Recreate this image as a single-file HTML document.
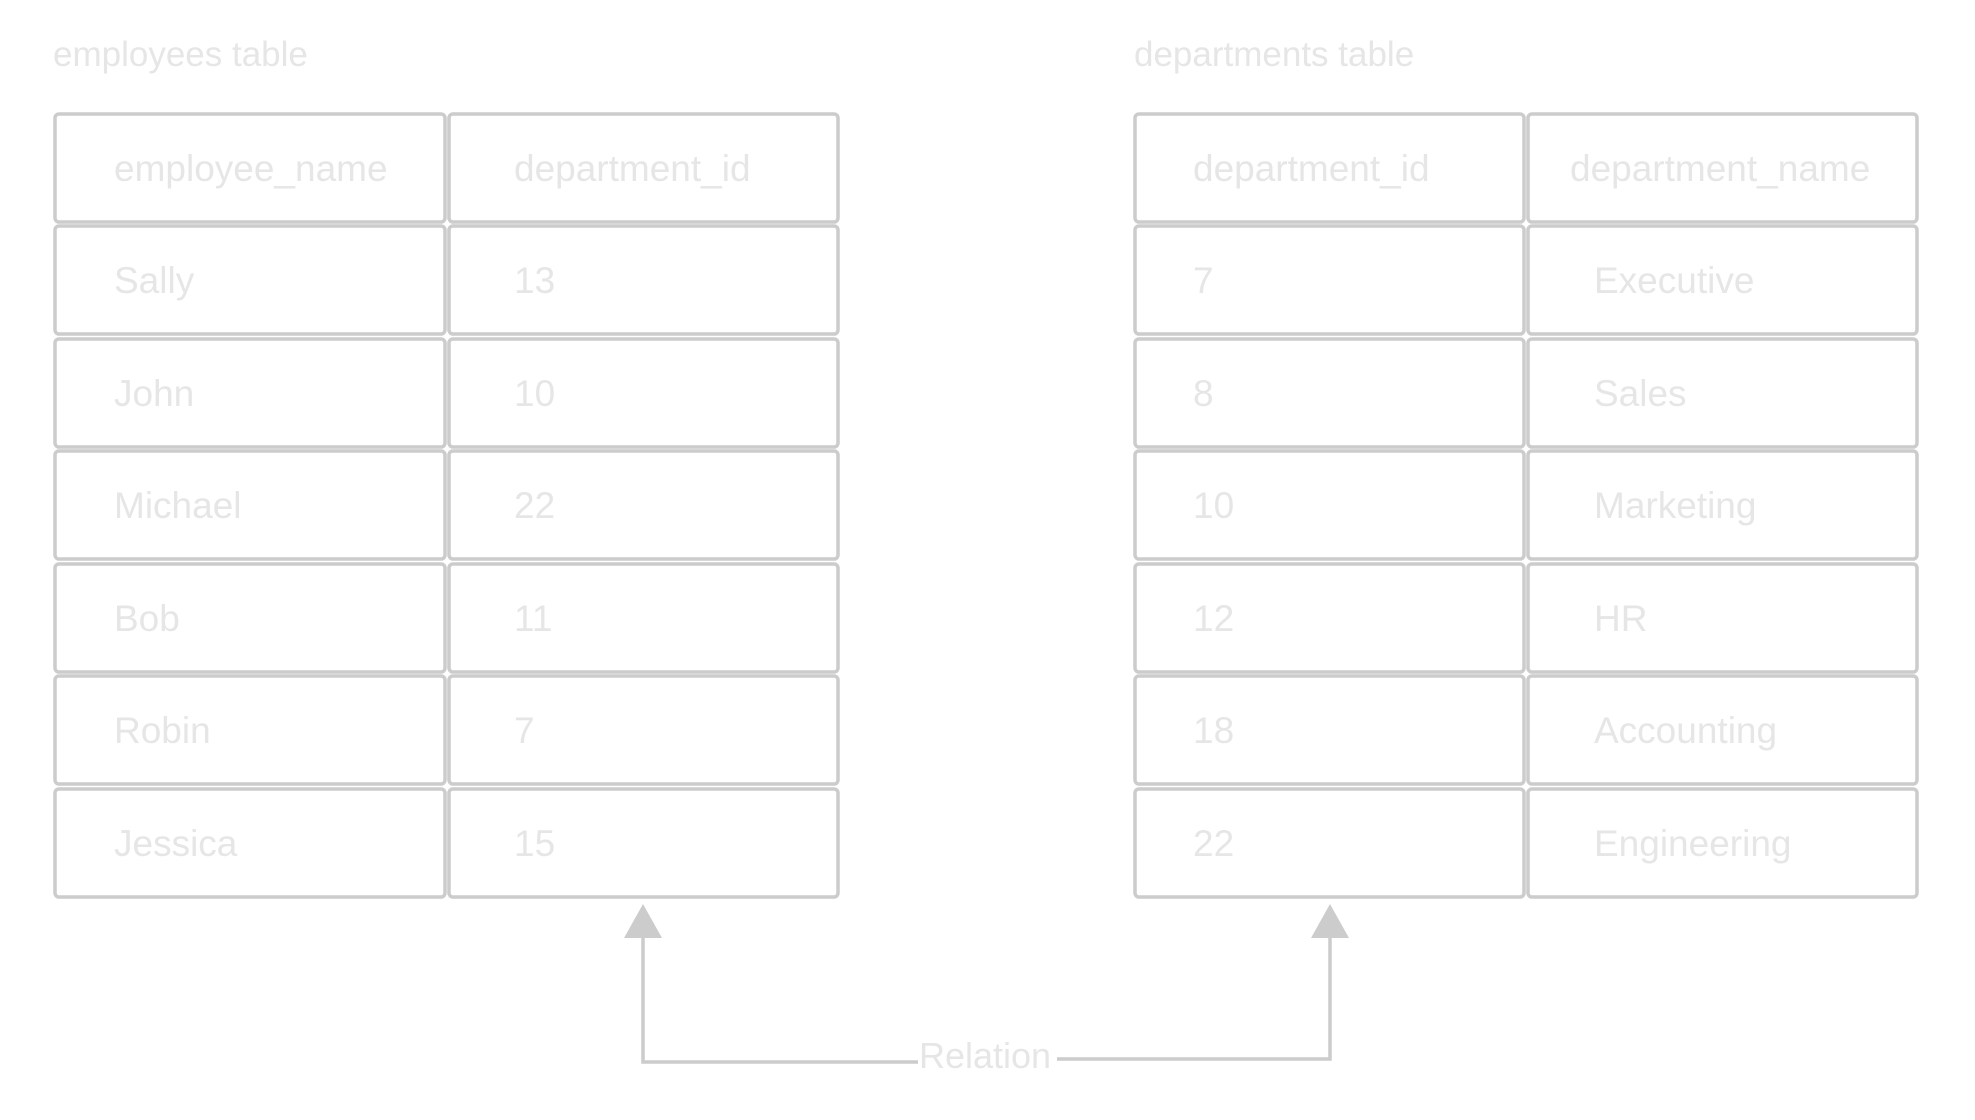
<!DOCTYPE html>
<html><head><meta charset="utf-8"><style>
html,body{margin:0;padding:0;background:#fff;}
svg{display:block;}
text{font-family:"Liberation Sans",sans-serif;fill:#e6e6e6;font-size:37px;}
</style></head><body>
<svg width="1975" height="1120" viewBox="0 0 1975 1120" xmlns="http://www.w3.org/2000/svg">
<text x="53" y="66" style="font-size:35px">employees table</text>
<text x="1134" y="66" style="font-size:35px">departments table</text>
<g transform="translate(0,-2)">
<g fill="none" stroke="#cccccc" stroke-width="3.5">
<rect x="55" y="116" width="390" height="108" rx="4"/><rect x="449" y="116" width="389" height="108" rx="4"/>
<rect x="55" y="228" width="390" height="108" rx="4"/><rect x="449" y="228" width="389" height="108" rx="4"/>
<rect x="55" y="341" width="390" height="108" rx="4"/><rect x="449" y="341" width="389" height="108" rx="4"/>
<rect x="55" y="453" width="390" height="108" rx="4"/><rect x="449" y="453" width="389" height="108" rx="4"/>
<rect x="55" y="566" width="390" height="108" rx="4"/><rect x="449" y="566" width="389" height="108" rx="4"/>
<rect x="55" y="678" width="390" height="108" rx="4"/><rect x="449" y="678" width="389" height="108" rx="4"/>
<rect x="55" y="791" width="390" height="108" rx="4"/><rect x="449" y="791" width="389" height="108" rx="4"/>

<rect x="1135" y="116" width="389" height="108" rx="4"/><rect x="1528" y="116" width="389" height="108" rx="4"/>
<rect x="1135" y="228" width="389" height="108" rx="4"/><rect x="1528" y="228" width="389" height="108" rx="4"/>
<rect x="1135" y="341" width="389" height="108" rx="4"/><rect x="1528" y="341" width="389" height="108" rx="4"/>
<rect x="1135" y="453" width="389" height="108" rx="4"/><rect x="1528" y="453" width="389" height="108" rx="4"/>
<rect x="1135" y="566" width="389" height="108" rx="4"/><rect x="1528" y="566" width="389" height="108" rx="4"/>
<rect x="1135" y="678" width="389" height="108" rx="4"/><rect x="1528" y="678" width="389" height="108" rx="4"/>
<rect x="1135" y="791" width="389" height="108" rx="4"/><rect x="1528" y="791" width="389" height="108" rx="4"/>

<polyline points="643,937 643,1064 918,1064"/>
<polyline points="1057,1061 1330,1061 1330,937"/>
</g>
<polygon points="643,906 624,940 662,940" fill="#cccccc"/>
<polygon points="1330,906 1311,940 1349,940" fill="#cccccc"/>
<text x="919" y="1070" style="font-size:36px">Relation</text>

<g>
<text x="114" y="183">employee_name</text><text x="514" y="183">department_id</text>
<text x="114" y="295">Sally</text><text x="514" y="295">13</text>
<text x="114" y="408">John</text><text x="514" y="408">10</text>
<text x="114" y="520">Michael</text><text x="514" y="520">22</text>
<text x="114" y="633">Bob</text><text x="514" y="633">11</text>
<text x="114" y="745">Robin</text><text x="514" y="745">7</text>
<text x="114" y="858">Jessica</text><text x="514" y="858">15</text>

<text x="1193" y="183">department_id</text><text x="1570" y="183">department_name</text>
<text x="1193" y="295">7</text><text x="1594" y="295">Executive</text>
<text x="1193" y="408">8</text><text x="1594" y="408">Sales</text>
<text x="1193" y="520">10</text><text x="1594" y="520">Marketing</text>
<text x="1193" y="633">12</text><text x="1594" y="633">HR</text>
<text x="1193" y="745">18</text><text x="1594" y="745">Accounting</text>
<text x="1193" y="858">22</text><text x="1594" y="858">Engineering</text>
</g>
</g>
</svg>
</body></html>
